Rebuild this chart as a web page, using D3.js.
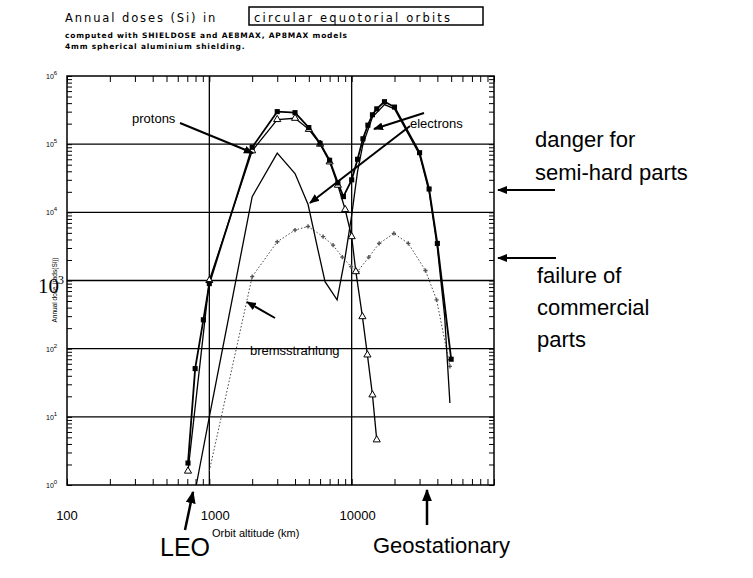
<!DOCTYPE html>
<html><head><meta charset="utf-8">
<script src="https://cdn.jsdelivr.net/npm/d3@7"></script>
<style>body{margin:0;background:#fff}</style></head>
<body><svg id="c" width="753" height="578"></svg>
<script>
const xTicks = [100, 1000, 10000];
const yTicks = [1, 10, 100, 1000, 10000, 100000, 1000000];
const totalX = [708, 795, 908, 1000, 2000, 3000, 4000, 5000, 6000, 7000, 8000, 8750, 10000, 11000, 12000, 13000, 14000, 15000, 17000, 20000, 30000, 35000, 40000, 50000];
const totalY = [2.1, 51, 265, 900, 90000, 300000, 290000, 175000, 103000, 58000, 27000, 17000, 30000, 60000, 120000, 190000, 270000, 330000, 420000, 350000, 75000, 22000, 3500, 70];
const protonX = [708, 1000, 2000, 3000, 4000, 5000, 6000, 7000, 8000, 9000, 10000, 10700, 11900, 12900, 14000, 15000];
const protonY = [1.6, 1000, 80000, 230000, 240000, 165000, 100000, 55000, 25000, 11000, 4400, 1350, 295, 81, 21, 4.6];
const electronX = [810, 1000, 2000, 3000, 4000, 4940, 5800, 6500, 7900, 9000, 10000, 11000, 12000, 14000, 17000, 20000, 30000, 35000, 40000, 45000, 49000];
const electronY = [1, 10, 17000, 74000, 37000, 13000, 2800, 960, 520, 2200, 9000, 40000, 100000, 250000, 380000, 330000, 70000, 20000, 3000, 300, 16];
const bremX = [1000, 2000, 3000, 4000, 4940, 6300, 7400, 8600, 9900, 11000, 13200, 15600, 19800, 25000, 33000, 39500, 49000];
const bremY = [1.6, 1140, 3700, 5500, 6200, 4400, 3300, 2200, 1600, 1350, 2200, 3500, 4900, 3500, 1400, 520, 55];

const svg = d3.select('#c');
const x = d3.scaleLog().domain([100, 100000]).range([67, 494]);
const y = d3.scaleLog().domain([1, 1000000]).range([485, 76]);
const F = 'Liberation Sans, Arial, sans-serif';

svg.append('defs').append('marker').attr('id','ah').attr('viewBox','0 0 10 10').attr('refX',9).attr('refY',5)
  .attr('markerWidth',5).attr('markerHeight',5).attr('orient','auto')
  .append('path').attr('d','M0,1L10,5L0,9Z').attr('fill','#000');

// title
svg.append('text').attr('x',65).attr('y',22).attr('font-family','DejaVu Sans, sans-serif').attr('font-size',11.5).attr('letter-spacing',1.9).text('Annual doses (Si) in');
svg.append('rect').attr('x',249).attr('y',7).attr('width',234).attr('height',18).attr('fill','none').attr('stroke','#000').attr('stroke-width',1.5);
svg.append('text').attr('x',254).attr('y',22).attr('font-family','DejaVu Sans, sans-serif').attr('font-size',11.5).attr('letter-spacing',2.2).text('circular equotorial orbits');
svg.append('text').attr('x',65).attr('y',38).attr('font-family','DejaVu Sans, sans-serif').attr('font-size',7.5).attr('font-weight','bold').attr('letter-spacing',0.8).text('computed with SHIELDOSE and AE8MAX, AP8MAX models');
svg.append('text').attr('x',65).attr('y',49).attr('font-family','DejaVu Sans, sans-serif').attr('font-size',7.5).attr('font-weight','bold').attr('letter-spacing',0.8).text('4mm spherical aluminium shielding.');

// frame & grid
const g = svg.append('g');
g.append('rect').attr('x',67).attr('y',76).attr('width',427).attr('height',409).attr('fill','none').attr('stroke','#000').attr('stroke-width',1.5);
yTicks.slice(1,-1).forEach(v=>g.append('line').attr('x1',67).attr('x2',494).attr('y1',y(v)).attr('y2',y(v)).attr('stroke','#000').attr('stroke-width',1.3));
[1000,10000].forEach(v=>g.append('line').attr('x1',x(v)).attr('x2',x(v)).attr('y1',76).attr('y2',485).attr('stroke','#000').attr('stroke-width',1.3));
const xb = d3.axisBottom(x).ticks(10).tickSize(-6).tickFormat('');
const xt = d3.axisTop(x).ticks(10).tickSize(-6).tickFormat('');
const yl = d3.axisLeft(y).ticks(20).tickSize(-5).tickFormat('');
const yr = d3.axisRight(y).ticks(20).tickSize(-5).tickFormat('');
[[xb,'translate(0,485)'],[xt,'translate(0,76)'],[yl,'translate(67,0)'],[yr,'translate(494,0)']].forEach(([a,t])=>{
  const s=g.append('g').attr('transform',t).call(a); s.select('.domain').remove(); s.selectAll('line').attr('stroke-width',1);
});
xTicks.forEach(v=>svg.append('text').attr('x',x(v)+(v===100?0:6)).attr('y',520).attr('text-anchor','middle').attr('font-family',F).attr('font-size',13).text(d3.format('d')(v)));
yTicks.forEach((v,i)=>{
  if(i===3){
    svg.append('text').attr('x',38).attr('y',y(v)+12).attr('font-family','Liberation Serif, serif').attr('font-size',21).text('10');
    svg.append('text').attr('x',58).attr('y',y(v)+3).attr('font-family','Liberation Serif, serif').attr('font-size',12).text('3');
  } else {
    const t=svg.append('text').attr('x',46).attr('y',y(v)+3).attr('font-family',F).attr('font-size',7).text('10');
    t.append('tspan').attr('dy',-4).attr('font-size',6).text(i);
  }
});
svg.append('text').attr('transform','translate(57,290) rotate(-90)').attr('text-anchor','middle').attr('font-family',F).attr('font-size',6.5).text('Annual dose (rads(Si))');
svg.append('text').attr('x',212).attr('y',537).attr('font-family',F).attr('font-size',11).text('Orbit altitude (km)');

const line = d3.line().x(d=>x(d[0])).y(d=>y(d[1]));
const zip=(a,b)=>a.map((v,i)=>[v,b[i]]);
const tot=zip(totalX,totalY), pro=zip(protonX,protonY), ele=zip(electronX,electronY), br=zip(bremX,bremY);
svg.append('path').attr('d',line(br)).attr('fill','none').attr('stroke','#444').attr('stroke-width',1).attr('stroke-dasharray','1.5,2');
svg.append('path').attr('d',line(ele)).attr('fill','none').attr('stroke','#000').attr('stroke-width',1.3);
svg.append('path').attr('d',line(pro)).attr('fill','none').attr('stroke','#000').attr('stroke-width',1.3);
svg.append('path').attr('d',line(tot)).attr('fill','none').attr('stroke','#000').attr('stroke-width',1.8);
svg.selectAll('.br').data(br.slice(1)).enter().append('path').attr('transform',d=>`translate(${x(d[0])},${y(d[1])})`)
  .attr('d',d3.symbol(d3.symbolCross,10)).attr('fill','#555');
svg.selectAll('.pt').data(pro).enter().append('path').attr('transform',d=>`translate(${x(d[0])},${y(d[1])})`)
  .attr('d',d3.symbol(d3.symbolTriangle,22)).attr('fill','#fff').attr('stroke','#000').attr('stroke-width',1);
svg.selectAll('.tt').data(tot).enter().append('path').attr('transform',d=>`translate(${x(d[0])},${y(d[1])})`)
  .attr('d',d3.symbol(d3.symbolSquare,26)).attr('fill','#000');

const txt=(s,xx,yy,fs)=>svg.append('text').attr('x',xx).attr('y',yy).attr('font-family',F).attr('font-size',fs).text(s);
const arr=(x1,y1,x2,y2,w)=>svg.append('line').attr('x1',x1).attr('y1',y1).attr('x2',x2).attr('y2',y2).attr('stroke','#000').attr('stroke-width',w||2).attr('marker-end','url(#ah)');
txt('protons',132,123,13); arr(180,123,253,153);
svg.append('rect').attr('x',408).attr('y',115).attr('width',68).attr('height',15).attr('fill','#fff');
txt('electrons',410,128,13); arr(424,113,374,129); arr(410,126,310,203);
txt('bremsstrahlung',250,355,13); arr(275,318,247,302);
txt('danger for',535,147,22); txt('semi-hard parts',535,180,22);
txt('failure of',537,283,22); txt('commercial',537,315,22); txt('parts',537,347,22);
arr(555,190,498,190,2); arr(556,258,498,258,2);
txt('LEO',160,556,25); arr(185,530,193,492,2.5);
txt('Geostationary',373,553,22); arr(427,525,427,490,2.5);
</script></body></html>
